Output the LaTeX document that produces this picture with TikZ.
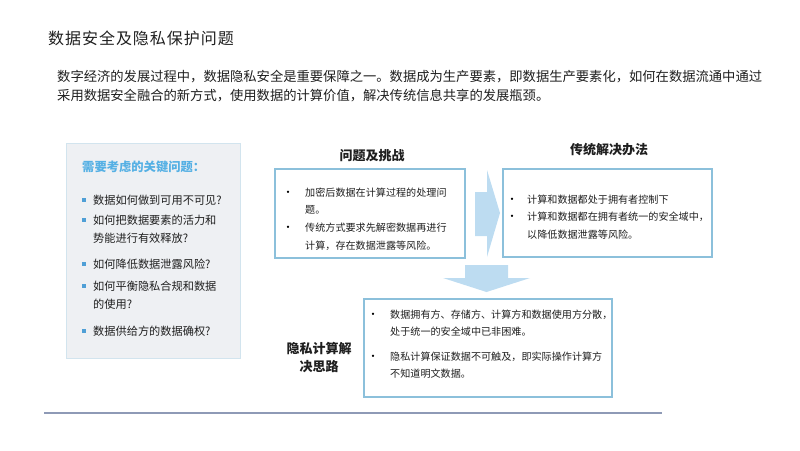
\documentclass[tikz,border=0pt]{standalone}
\usepackage{fontspec}
\setmainfont{Noto Sans CJK SC}
\usetikzlibrary{positioning}
\definecolor{txt}{HTML}{1F1F1F}
\definecolor{boxline}{HTML}{8CC0DB}
\definecolor{panelfill}{HTML}{EEF0F3}
\definecolor{panelline}{HTML}{D2E4EE}
\definecolor{headblue}{HTML}{55B0E4}
\definecolor{sqblue}{HTML}{4F9FD6}
\definecolor{arrowfill}{HTML}{BDDCF1}
\definecolor{rule}{HTML}{8E9AB6}
\tikzset{
  line/.style={anchor=west, inner sep=0pt, text=txt},
  para/.style={line, font=\fontsize{13.3}{16}\selectfont},
  item/.style={line, font=\fontsize{11.2}{14}\selectfont},
  boxtxt/.style={line, font=\fontsize{10.1}{12}\selectfont},
  dot/.style={inner sep=0pt, text=black, font=\fontsize{11}{12}\selectfont},
  head/.style={inner sep=0pt, text=txt, font=\fontsize{13}{15}\selectfont\bfseries},
  framebox/.style={draw=boxline, line width=1.1pt, fill=white},
  sq/.style={fill=sqblue, draw=none},
  blockarrow/.style={fill=arrowfill, draw=none}
}
\begin{document}
\begin{tikzpicture}[x=1pt,y=-1pt]
\useasboundingbox (0,0) rectangle (800,450);
% title
\node[line, font=\fontsize{16}{18}\selectfont\addfontfeature{LetterSpace=6}] (title) at (48,38) {数据安全及隐私保护问题};
% paragraph
\node[para] (p1) at (57,77) {数字经济的发展过程中，数据隐私安全是重要保障之一。数据成为生产要素，即数据生产要素化，如何在数据流通中通过};
\node[para] (p2) at (57,96) {采用数据安全融合的新方式，使用数据的计算价值，解决传统信息共享的发展瓶颈。};
% left panel
\fill[panelfill, draw=panelline, line width=0.6pt] (66,143) rectangle (240,358);
\node[line, text=headblue, font=\fontsize{12.3}{14}\selectfont\bfseries] (ph) at (82,167) {需要考虑的关键问题：};
\foreach \y in {200,220,264,286,331} {\fill[sq] (82,\y-2) rectangle (86,\y+2);}
\node[item] (q1) at (93,200) {数据如何做到可用不可见?};
\node[item] (q2a) at (93,220) {如何把数据要素的活力和};
\node[item] (q2b) at (93,238) {势能进行有效释放?};
\node[item] (q3) at (93,264) {如何降低数据泄露风险?};
\node[item] (q4a) at (93,286) {如何平衡隐私合规和数据};
\node[item] (q4b) at (93,304) {的使用?};
\node[item] (q5) at (93,331) {数据供给方的数据确权?};
% arrows
\fill[blockarrow] (475,192) -- (487,192) -- (487,170) -- (500,213) -- (487,257) -- (487,236) -- (475,236) -- cycle;
\fill[blockarrow] (465,265) -- (508,265) -- (508,278) -- (530,278) -- (486.5,292) -- (443,278) -- (465,278) -- cycle;
% box 1
\node[head] (h1) at (372,156) {问题及挑战};
\draw[framebox] (275,169) rectangle (465,258);
\node[dot] (d11) at (288,194) {•};
\node[boxtxt] (a1) at (305,193) {加密后数据在计算过程的处理问};
\node[boxtxt] (a2) at (305,210) {题。};
\node[dot] (d12) at (288,229) {•};
\node[boxtxt] (a3) at (305,228) {传统方式要求先解密数据再进行};
\node[boxtxt] (a4) at (305,246) {计算，存在数据泄露等风险。};
% box 2
\node[head] (h2) at (609,150) {传统解决办法};
\draw[framebox] (503,169) rectangle (712,257);
\node[dot] (d21) at (512,201) {•};
\node[boxtxt] (c1) at (527,200) {计算和数据都处于拥有者控制下};
\node[dot] (d22) at (512,218) {•};
\node[boxtxt] (c2) at (527,217) {计算和数据都在拥有者统一的安全域中，};
\node[boxtxt] (c3) at (527,235) {以降低数据泄露等风险。};
% box 3
\node[head] (h3a) at (319,349) {隐私计算解};
\node[head] (h3b) at (319,367) {决思路};
\draw[framebox] (364,299) rectangle (612,397);
\node[dot] (d31) at (373,316) {•};
\node[boxtxt] (e1) at (390,315) {数据拥有方、存储方、计算方和数据使用方分散，};
\node[boxtxt] (e2) at (390,332) {处于统一的安全域中已非困难。};
\node[dot] (d32) at (373,358) {•};
\node[boxtxt] (e3) at (390,357) {隐私计算保证数据不可触及，即实际操作计算方};
\node[boxtxt] (e4) at (390,374) {不知道明文数据。};
% bottom rule
\draw[rule, line width=2.5pt] (44,413) -- (662,413);
\end{tikzpicture}
\end{document}
